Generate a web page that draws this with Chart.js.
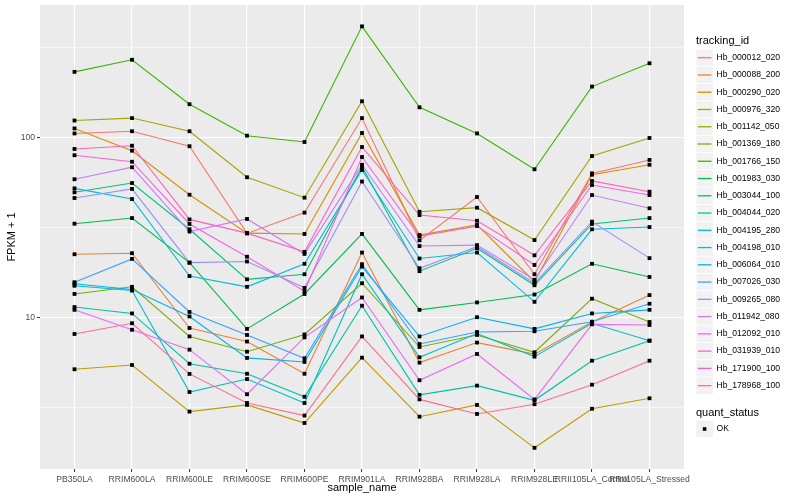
<!DOCTYPE html>
<html>
<head>
<meta charset="utf-8">
<script src="https://cdn.jsdelivr.net/npm/chart.js@4.4.1/dist/chart.umd.min.js"></script>
<style>
  html, body { margin: 0; padding: 0; background: #ffffff; }
  #wrap { width: 800px; height: 500px; }
</style>
</head>
<body>
<div id="wrap"><canvas id="myChart" width="800" height="500"></canvas></div>
<script>
const samples = ['PB350LA', 'RRIM600LA', 'RRIM600LE', 'RRIM600SE', 'RRIM600PE', 'RRIM901LA',
  'RRIM928BA', 'RRIM928LA', 'RRIM928LE', 'RRII105LA_Control', 'RRII105LA_Stressed'];

const trackingIds = ['Hb_000012_020', 'Hb_000088_200', 'Hb_000290_020', 'Hb_000976_320', 'Hb_001142_050',
  'Hb_001369_180', 'Hb_001766_150', 'Hb_001983_030', 'Hb_003044_100', 'Hb_004044_020',
  'Hb_004195_280', 'Hb_004198_010', 'Hb_006064_010', 'Hb_007026_030', 'Hb_009265_080',
  'Hb_011942_080', 'Hb_012092_010', 'Hb_031939_010', 'Hb_171900_100', 'Hb_178968_100'];

// FPKM + 1, one value per sample
const hb_000012_020 = [106, 109, 90, 29.5, 38.5, 129, 27, 47, 17.5, 63.6, 75.5];
const hb_000088_200 = [22.6, 22.9, 8.8, 7.4, 4.9, 23.1, 5.65, 7.3, 6.3, 9.5, 13.4];
const hb_000290_020 = [113, 85, 48.4, 29.6, 29.3, 106.6, 28.9, 32.9, 15.9, 62.5, 71];
const hb_000976_320 = [5.19, 5.48, 3.02, 3.29, 2.61, 6.02, 2.83, 3.29, 1.9, 3.13, 3.58];
const hb_001142_050 = [125, 129, 109, 60.5, 46.6, 160, 38.9, 41, 27.1, 79.4, 100];
const hb_001369_180 = [13.6, 14.9, 7.9, 6.5, 8.1, 15.6, 6.9, 8.05, 6.45, 12.8, 9.5];
const hb_001766_150 = [233, 272, 154, 103, 95, 417, 148, 106, 67, 193, 260];
const hb_001983_030 = [33.4, 35.9, 20.3, 8.7, 13.6, 29.3, 11.1, 12.2, 13.5, 20, 16.9];
const hb_003044_100 = [49.9, 56.2, 31.1, 16.4, 17.5, 69.3, 18.2, 24.4, 15.2, 33.3, 35.9];
const hb_004044_020 = [11.5, 10.6, 5.57, 4.9, 3.65, 11.7, 3.74, 4.21, 3.49, 5.79, 7.48];
const hb_004195_280 = [15.1, 14.2, 3.88, 4.58, 3.37, 17.5, 6.05, 8.2, 6.1, 9.35, 7.48];
const hb_004198_010 = [52.5, 45.8, 17.1, 14.9, 20, 66.4, 21.4, 23.1, 12.3, 31.1, 32];
const hb_006064_010 = [15.5, 14.4, 10.2, 6.0, 5.7, 19.3, 7.9, 10.1, 8.7, 10.6, 11.1];
const hb_007026_030 = [15.8, 21.3, 10.8, 8.05, 5.97, 19.9, 7.17, 8.36, 8.44, 9.54, 12.0];
const hb_009265_080 = [46.4, 52.1, 20.3, 20.6, 14.7, 57.3, 18.9, 24.9, 15.6, 34.3, 21.5];
const hb_011942_080 = [59, 68.8, 30.2, 35.5, 22.7, 71, 25.1, 25.4, 16.3, 48.2, 40.7];
const hb_012092_010 = [11.1, 8.6, 6.67, 3.77, 7.8, 13, 4.51, 6.31, 3.53, 9.22, 9.14];
const hb_031939_010 = [80.2, 73.8, 33.3, 21.9, 14.1, 78.4, 28.5, 32.4, 19.7, 54.8, 48.2];
const hb_171900_100 = [86.9, 90.6, 35.3, 29.6, 23.3, 89.1, 37.3, 34.7, 22.3, 57.7, 50.3];
const hb_178968_100 = [8.15, 9.35, 4.89, 3.37, 2.87, 7.9, 3.53, 2.93, 3.32, 4.26, 5.79];

const series = [hb_000012_020, hb_000088_200, hb_000290_020, hb_000976_320, hb_001142_050,
  hb_001369_180, hb_001766_150, hb_001983_030, hb_003044_100, hb_004044_020,
  hb_004195_280, hb_004198_010, hb_006064_010, hb_007026_030, hb_009265_080,
  hb_011942_080, hb_012092_010, hb_031939_010, hb_171900_100, hb_178968_100];

// ggplot hue palette, 20 levels
const colors = ['#F8766D', '#EA8331', '#D89000', '#C09B00', '#A3A500', '#7CAE00', '#39B600', '#00BB4E',
  '#00BF7D', '#00C1A3', '#00BFC4', '#00BAE0', '#00B0F6', '#35A2FF', '#9590FF', '#C77CFF',
  '#E76BF3', '#FA62DB', '#FF62BC', '#FF6C91'];

const yMajorTicks = [10, 100];
const yTickLabels = ['10', '100'];
const yMinorTicks = [3.1623, 31.623, 316.23];
const quantStatus = ['OK'];

const FONT = "'Liberation Sans', Arial, Helvetica, sans-serif";
Chart.defaults.font.family = FONT;
Chart.defaults.color = '#4D4D4D';

const datasets = trackingIds.map((id, i) => ({
  label: id,
  data: series[i].map((v, j) => ({ x: j, y: v })),
  borderColor: colors[i],
  backgroundColor: colors[i],
  borderWidth: 1.1,
  pointRadius: 0,
  tension: 0,
  fill: false,
  order: trackingIds.length - i
}));

// black points on top of all lines
datasets.push({
  label: quantStatus[0],
  data: series.flatMap(row => row.map((v, j) => ({ x: j, y: v }))),
  showLine: false,
  pointStyle: 'rect',
  pointRadius: 2.7,
  pointBackgroundColor: '#000000',
  pointBorderWidth: 0,
  order: 0
});

const isMajor = v => yMajorTicks.some(m => Math.abs(m - v) < 1e-6);

const panelBg = {
  id: 'panelBg',
  beforeDraw(chart) {
    const { ctx, chartArea: a } = chart;
    ctx.save();
    ctx.fillStyle = '#EBEBEB';
    ctx.fillRect(a.left, a.top, a.right - a.left, a.bottom - a.top);
    ctx.restore();
  }
};

function drawKey(ctx, x, cy) {
  ctx.fillStyle = '#F2F2F2';
  ctx.fillRect(x, cy - 8.6, 17.2, 17.2);
  ctx.strokeStyle = '#FFFFFF';
  ctx.lineWidth = 0.6;
  ctx.strokeRect(x, cy - 8.6, 17.2, 17.2);
}

const ggLegend = {
  id: 'ggLegend',
  afterDraw(chart) {
    const ctx = chart.ctx;
    const x0 = 696;
    ctx.save();
    ctx.textBaseline = 'middle';
    ctx.textAlign = 'left';

    ctx.fillStyle = '#000000';
    ctx.font = '11px ' + FONT;
    ctx.fillText('tracking_id', x0, 41);

    trackingIds.forEach((id, i) => {
      const cy = 57.7 + i * 17.26;
      drawKey(ctx, x0, cy);
      ctx.strokeStyle = colors[i];
      ctx.lineWidth = 1.3;
      ctx.beginPath();
      ctx.moveTo(x0 + 1.7, cy);
      ctx.lineTo(x0 + 15.5, cy);
      ctx.stroke();
      ctx.fillStyle = '#000000';
      ctx.font = '8.6px ' + FONT;
      ctx.fillText(id, x0 + 20.5, cy);
    });

    ctx.fillStyle = '#000000';
    ctx.font = '11px ' + FONT;
    ctx.fillText('quant_status', x0, 412.5);

    const cy = 429;
    drawKey(ctx, x0, cy);
    ctx.fillStyle = '#000000';
    ctx.fillRect(x0 + 8.6 - 1.8, cy - 1.8, 3.6, 3.6);
    ctx.font = '8.6px ' + FONT;
    ctx.fillText(quantStatus[0], x0 + 20.5, cy);
    ctx.restore();
  }
};

new Chart(document.getElementById('myChart'), {
  type: 'line',
  data: { datasets },
  options: {
    responsive: false,
    animation: false,
    events: [],
    layout: { padding: { left: 0, top: 5, right: 116, bottom: 0 } },
    plugins: {
      legend: { display: false },
      tooltip: { enabled: false }
    },
    scales: {
      x: {
        type: 'linear',
        bounds: 'data',
        min: -0.6,
        max: samples.length - 0.4,
        afterBuildTicks: s => { s.ticks = samples.map((_, i) => ({ value: i })); },
        afterFit: s => { s.height = 31; s.paddingLeft = 0; s.paddingRight = 0; },
        ticks: {
          autoSkip: false, maxRotation: 0, minRotation: 0, padding: 2,
          color: '#4D4D4D', font: { size: 8.6 },
          callback: v => samples[v]
        },
        grid: { color: '#FFFFFF', lineWidth: 1.1, tickLength: 3, tickColor: '#333333', tickWidth: 1 },
        border: { display: false },
        title: { display: true, text: 'sample_name', color: '#000000', font: { size: 11 }, padding: { top: 0, bottom: 5 } }
      },
      y: {
        type: 'logarithmic',
        bounds: 'data',
        min: 1.449,
        max: 548,
        afterBuildTicks: s => {
          s.ticks = yMinorTicks.concat(yMajorTicks).sort((a, b) => a - b).map(v => ({ value: v }));
        },
        afterFit: s => { s.width = 40; s.paddingTop = 0; s.paddingBottom = 0; },
        ticks: {
          autoSkip: false, padding: 2, color: '#4D4D4D', font: { size: 8.6 },
          callback: v => {
            const k = yMajorTicks.findIndex(m => Math.abs(m - v) < 1e-6);
            return k >= 0 ? yTickLabels[k] : '';
          }
        },
        grid: {
          color: '#FFFFFF',
          lineWidth: c => isMajor(c.tick.value) ? 1.1 : 0.55,
          tickLength: 3,
          tickColor: c => isMajor(c.tick.value) ? '#333333' : 'rgba(0,0,0,0)',
          tickWidth: 1
        },
        border: { display: false },
        title: { display: true, text: 'FPKM + 1', color: '#000000', font: { size: 11 }, padding: { top: 5, bottom: 0 } }
      }
    }
  },
  plugins: [panelBg, ggLegend]
});
</script>
</body>
</html>
